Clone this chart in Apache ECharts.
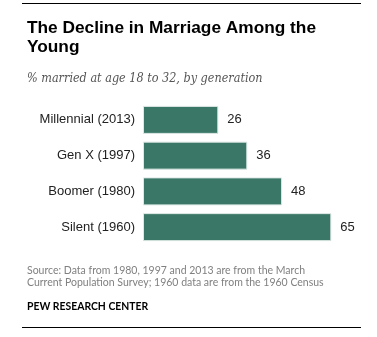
<!DOCTYPE html>
<html>
<head>
<meta charset="utf-8">
<script src="https://cdn.jsdelivr.net/npm/echarts@6/dist/echarts.min.js"></script>
<style>
  html, body { margin: 0; padding: 0; background: #fff; }
  #chart { width: 377px; height: 337px; }
</style>
</head>
<body>
<div id="chart"></div>
<script>
// Share of 18-to-32-year-olds who are married, by generation
const generations = ['Millennial (2013)', 'Gen X (1997)', 'Boomer (1980)', 'Silent (1960)'];
const marriedPct = [26, 36, 48, 65];

const titleText = 'The Decline in Marriage Among the\nYoung';
const subtitleText = '% married at age 18 to 32, by generation';
const sourceText = 'Source: Data from 1980, 1997 and 2013 are from the March\nCurrent Population Survey; 1960 data are from the 1960 Census';
const creditText = 'PEW RESEARCH CENTER';

const sansFont = '"Liberation Sans", Arial, sans-serif';
const noteFont = 'Lato, "Liberation Sans", sans-serif';
const chart = echarts.init(document.getElementById('chart'), null, { renderer: 'canvas' });

chart.setOption({
  animation: false,
  backgroundColor: '#ffffff',
  title: [
    {
      text: titleText,
      left: 22, top: 14,
      textStyle: {
        fontFamily: sansFont, fontWeight: 'bold', fontSize: 17.3,
        lineHeight: 19, color: '#000000'
      }
    },
    {
      text: subtitleText,
      left: 22, top: 67,
      textStyle: {
        fontFamily: '"DejaVu Serif Condensed", "DejaVu Serif", serif',
        fontStyle: 'italic', fontWeight: 'normal', fontSize: 12.5, color: '#555555'
      }
    },
    {
      text: sourceText,
      left: 22, top: 260,
      textStyle: {
        fontFamily: noteFont, fontWeight: 'normal', fontSize: 10.5,
        lineHeight: 11.7, color: '#808080'
      }
    },
    {
      text: creditText,
      left: 22, top: 297,
      textStyle: {
        fontFamily: noteFont, fontWeight: 'bold', fontSize: 10.4, color: '#000000'
      }
    }
  ],
  graphic: [
    { type: 'line', shape: { x1: 22, y1: 3.5, x2: 361, y2: 3.5 }, style: { stroke: '#000', lineWidth: 1 } },
    { type: 'line', shape: { x1: 22, y1: 327.5, x2: 361, y2: 327.5 }, style: { stroke: '#000', lineWidth: 1 } }
  ],
  grid: { left: 143, top: 102, width: 202.8, height: 143, containLabel: false },
  xAxis: {
    type: 'value', min: 0, max: 70, show: false
  },
  yAxis: {
    type: 'category',
    data: generations,
    inverse: true,
    axisLine: { show: false },
    axisTick: { show: false },
    axisLabel: {
      margin: 8, fontFamily: sansFont, fontSize: 13, color: '#222222'
    }
  },
  series: [{
    type: 'bar',
    data: marriedPct,
    barWidth: 28,
    itemStyle: { color: '#3a7767', borderColor: '#dde8e4', borderWidth: 1 },
    label: {
      show: true, position: 'right', distance: 9,
      fontFamily: sansFont, fontSize: 13, color: '#222222'
    }
  }]
});
</script>
</body>
</html>
